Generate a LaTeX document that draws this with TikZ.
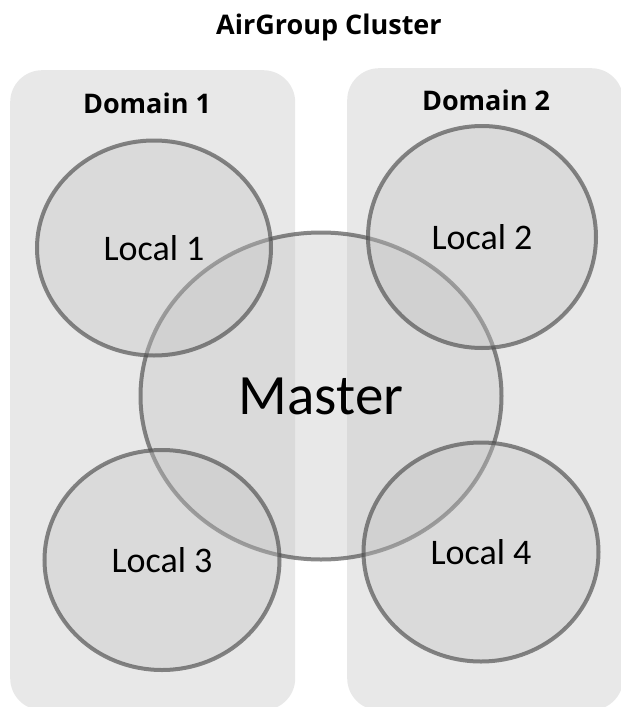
\documentclass[tikz,border=0pt]{standalone}
\usepackage{fontspec}
\setmainfont{Carlito}
\newfontfamily\headfont{Open Sans}
\usetikzlibrary{shapes.geometric}
\definecolor{domainfill}{RGB}{232,232,232}
\definecolor{circfill}{RGB}{196,196,196}
\definecolor{circline}{RGB}{75,75,75}
\tikzset{
  domainbox/.style={draw=none, fill=domainfill, rounded corners=32pt, inner sep=0pt},
  site/.style={ellipse, draw=circline, draw opacity=0.65, line width=4pt, fill=circfill, fill opacity=0.39, text opacity=1, inner sep=0pt, font=\fontsize{36}{40}\selectfont},
  headlabel/.style={font=\headfont\bfseries\fontsize{27}{30}\selectfont, inner sep=0pt}
}
\begin{document}
\begin{tikzpicture}[x=1pt,y=-1pt]
\useasboundingbox (0,0) rectangle (621,707);
\fill[white] (0,0) rectangle (621,707);
% domains
\node[domainbox, minimum width=285pt, minimum height=640pt, anchor=north west] (d1) at (10,70) {};
\node[domainbox, minimum width=276pt, minimum height=642pt, anchor=north west] (d2) at (347,68) {};
\node[headlabel] (title) at (329,27) {AirGroup Cluster};
\node[headlabel] (d1lab) at (147,103) {Domain 1};
\node[headlabel] (d2lab) at (486,100) {Domain 2};
% circles
\node[site, minimum width=361pt, minimum height=327pt, font=\fontsize{57}{60}\selectfont] (master) at (321,396) {Master};
\node[site, minimum width=234pt, minimum height=215pt] (l1) at (154,248) {Local 1};
\node[site, minimum width=228pt, minimum height=222pt] (l2) at (482,237) {Local 2};
\node[site, minimum width=235pt, minimum height=220pt] (l3) at (162,560) {Local 3};
\node[site, minimum width=235pt, minimum height=219pt] (l4) at (481,552) {Local 4};
\end{tikzpicture}
\end{document}
